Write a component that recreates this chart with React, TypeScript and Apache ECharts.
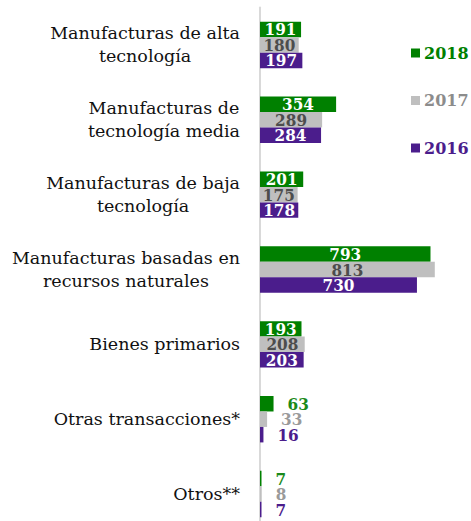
import React, { useEffect, useRef } from "react";
import * as echarts from "echarts";

const categories = [
  "Manufacturas de alta\ntecnología",
  "Manufacturas de\ntecnología media",
  "Manufacturas de baja\ntecnología",
  "Manufacturas basadas en\nrecursos naturales",
  "Bienes primarios",
  "Otras transacciones*",
  "Otros**",
];
const years = ["2018", "2017", "2016"];
const values2018 = [191, 354, 201, 793, 193, 63, 7];
const values2017 = [180, 289, 175, 813, 208, 33, 8];
const values2016 = [197, 284, 178, 730, 203, 16, 7];

const colors = ["#008000", "#BFBFBF", "#4B1D8C"];
const insideText = ["#FFFFFF", "#4D4D4D", "#FFFFFF"];
const outsideText = ["#1A8A1A", "#9A9A9A", "#4B1D8C"];
const FONT = "DejaVu Serif";
const BAR_FONT = "'DejaVu Serif Condensed', 'DejaVu Serif'";

export default function App() {
  const ref = useRef<HTMLDivElement>(null);
  useEffect(() => {
    if (!ref.current) return;
    const chart = echarts.init(ref.current, undefined, { renderer: "svg" });
    const all = [values2018, values2017, values2016];
    const series = all.map((vals, si) => ({
      name: years[si],
      type: "bar",
      barGap: "0%",
      barCategoryGap: "38%",
      itemStyle: { color: colors[si] },
      data: vals.map((v) => {
        const small = v < 100;
        return {
          value: v,
          label: {
            show: true,
            position: small ? "right" : "inside",
            distance: 14,
            color: small ? outsideText[si] : insideText[si],
            fontFamily: BAR_FONT,
            fontWeight: "bold",
            fontSize: 17,
            lineHeight: 15,
          },
        };
      }),
    }));
    chart.setOption({
      animation: false,
      legend: {
        orient: "vertical",
        left: 411,
        top: 45,
        padding: 0,
        itemGap: 31.5,
        itemWidth: 9,
        itemHeight: 9,
        icon: "rect",
        data: years.map((y, i) => ({
          name: y,
          textStyle: { color: i === 1 ? "#8C8C8C" : colors[i] },
        })),
        textStyle: { fontFamily: FONT, fontWeight: "bold", fontSize: 16, padding: [0, 0, 0, -1] },
        selectedMode: false,
      },
      grid: {
        left: 260,
        top: 7.5,
        width: 215,
        height: 524,
        containLabel: false,
        outerBoundsMode: "none",
      },
      xAxis: {
        type: "value",
        min: 0,
        max: 1000,
        show: false,
      },
      yAxis: {
        type: "category",
        inverse: true,
        data: categories,
        axisLine: { show: true, lineStyle: { color: "#D9D9D9", width: 2 } },
        axisTick: { show: false },
        axisLabel: {
          margin: 20,
          align: "right",
          formatter: (v: string) =>
            v
              .split("\n")
              .map((l) => `{c|${l}}`)
              .join("\n"),
          rich: {
            c: {
              align: "center",
              fontFamily: FONT,
              fontSize: 17.5,
              lineHeight: 23,
              color: "#111111",
            },
          },
        },
      },
      series,
    });
    return () => chart.dispose();
  }, []);
  return <div ref={ref} style={{ width: 471, height: 521, position: "absolute", left: 0, top: 0 }} />;
}
